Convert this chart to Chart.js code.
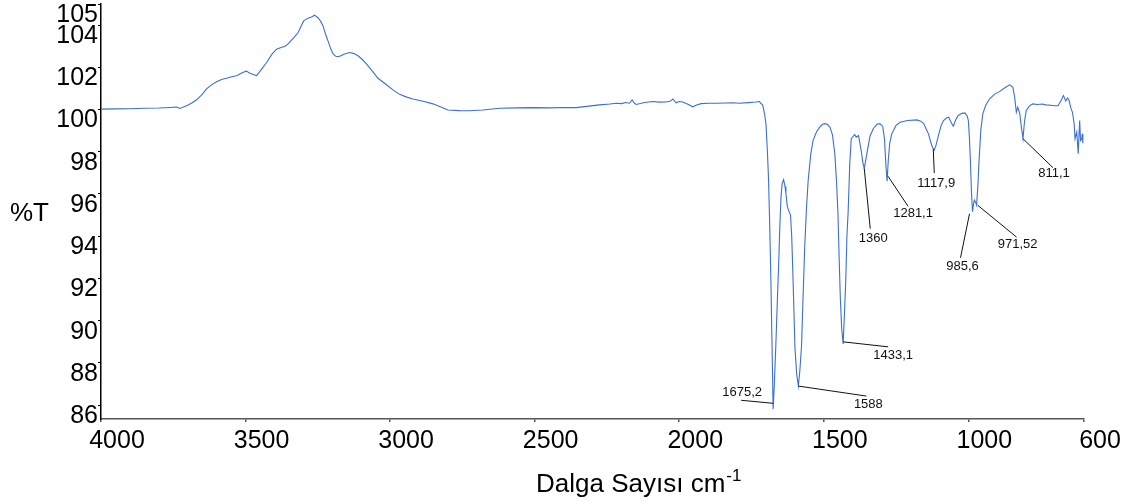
<!DOCTYPE html>
<html>
<head>
<meta charset="utf-8">
<script src="https://cdn.jsdelivr.net/npm/chart.js@4.4.1/dist/chart.umd.min.js"></script>
<style>
    body { margin: 0; background: #fff; }
    canvas { display: block; }
</style>
</head>
<body>
<canvas id="irChart" width="1128" height="504"></canvas>
<script>
// IR spectrum, wavenumber (cm-1) vs transmittance (%T)
const wavenumbers = [
    4000, 3950, 3900, 3850, 3800, 3760, 3738, 3727, 3700, 3685, 3669, 3650, 3635, 3618, 3600, 3583,
    3566, 3548, 3531, 3510, 3497, 3485, 3470, 3462, 3445, 3427, 3410, 3393, 3375, 3364, 3352, 3341,
    3330, 3318, 3308, 3299, 3284, 3272, 3261, 3250, 3241, 3232, 3224, 3215, 3206, 3197, 3188, 3180,
    3170, 3160, 3140, 3125, 3111, 3096, 3082, 3060, 3042, 3015, 2990, 2967, 2945, 2921, 2886, 2852,
    2820, 2800, 2760, 2725, 2680, 2621, 2560, 2506, 2450, 2400, 2356, 2320, 2276, 2240, 2218, 2200,
    2185, 2172, 2163, 2155, 2149, 2120, 2092, 2070, 2045, 2030, 2022, 2011, 2000, 1988, 1970, 1953,
    1940, 1924, 1900, 1873, 1840, 1815, 1792, 1760, 1735, 1723, 1711, 1705, 1700, 1695, 1691, 1687,
    1683, 1679, 1675.2, 1671, 1666, 1661, 1656, 1652, 1648, 1644, 1639, 1634, 1631, 1626, 1621, 1615,
    1611, 1608, 1604, 1600, 1594, 1588, 1583, 1577, 1572, 1566, 1560, 1554, 1545, 1537, 1525, 1514,
    1505, 1497, 1488, 1479, 1470, 1462, 1456, 1451, 1447, 1443, 1438, 1433.1, 1428, 1424, 1420, 1416,
    1410, 1405, 1393, 1388, 1380, 1375, 1370, 1365, 1360, 1355, 1349, 1340, 1329, 1316, 1306, 1296,
    1290, 1285, 1281.1, 1277, 1272, 1265, 1250, 1236, 1210, 1178, 1165, 1155, 1145, 1138, 1130, 1124,
    1117.9, 1112, 1102, 1094, 1086, 1076, 1068, 1060, 1052, 1044, 1035, 1022, 1012, 1004, 1000, 996,
    993, 989, 985.6, 982, 979, 975, 971.52, 967, 963, 957, 950, 940, 927, 910, 891, 875,
    857, 846, 840, 834, 829, 822, 817, 811.1, 806, 800, 790, 778, 760, 745, 732, 715,
    700, 690, 680, 671, 663, 657, 652, 646, 640, 634, 631, 625, 620, 615, 612, 608,
    606, 604
];
const transmittance = [
    100.02, 100.03, 100.04, 100.06, 100.07, 100.1, 100.12, 100.05, 100.2, 100.32, 100.46, 100.72, 100.98, 101.17, 101.32, 101.42,
    101.48, 101.55, 101.6, 101.75, 101.82, 101.72, 101.65, 101.6, 101.9, 102.23, 102.6, 102.86, 102.95, 102.99, 103.12, 103.29,
    103.45, 103.65, 103.95, 104.2, 104.33, 104.38, 104.47, 104.35, 104.2, 103.96, 103.6, 103.25, 102.9, 102.63, 102.52, 102.5,
    102.55, 102.62, 102.7, 102.65, 102.55, 102.37, 102.16, 101.8, 101.48, 101.2, 100.93, 100.72, 100.6, 100.5, 100.39, 100.27,
    100.1, 99.98, 99.95, 99.94, 99.98, 100.06, 100.08, 100.09, 100.08, 100.1, 100.09, 100.15, 100.22, 100.26, 100.3, 100.28,
    100.33, 100.3, 100.46, 100.3, 100.24, 100.33, 100.38, 100.35, 100.36, 100.4, 100.5, 100.32, 100.38, 100.36, 100.25, 100.13,
    100.22, 100.28, 100.3, 100.3, 100.31, 100.32, 100.3, 100.33, 100.36, 100.38, 100.2, 99.8, 99.32, 98.0, 96.65, 94.5,
    91.93, 88.8, 85.8, 87.0, 88.79, 90.8, 92.72, 94.5, 95.86, 96.5, 96.68, 96.35, 96.02, 95.4, 95.2, 95.0,
    94.0, 92.72, 90.8, 88.79, 87.5, 86.9, 87.6, 88.79, 91.0, 93.5, 95.3, 96.65, 97.9, 98.54, 98.95, 99.17,
    99.3, 99.33, 99.3, 99.17, 98.8, 97.91, 96.6, 95.08, 93.0, 91.15, 89.6, 88.9, 90.5, 91.93, 94.0, 95.08,
    97.5, 98.62, 98.82, 98.69, 98.77, 98.4, 98.0, 97.5, 97.2, 97.6, 98.07, 98.75, 99.09, 99.3, 99.33, 99.2,
    98.6, 97.3, 96.6, 97.59, 98.4, 98.85, 99.25, 99.4, 99.48, 99.51, 99.45, 99.35, 99.05, 98.85, 98.45, 98.2,
    98.08, 98.3, 98.85, 99.25, 99.48, 99.6, 99.64, 99.4, 99.21, 99.5, 99.72, 99.82, 99.84, 99.7, 99.48, 98.6,
    97.59, 96.0, 95.16, 95.55, 95.71, 95.6, 95.47, 96.4, 97.59, 99.0, 99.8, 100.2, 100.5, 100.72, 100.86, 101.02,
    101.17, 101.05, 100.6, 99.87, 100.11, 99.8, 99.2, 98.62, 99.4, 99.95, 100.15, 100.27, 100.24, 100.26, 100.22, 100.2,
    100.18, 100.18, 100.4, 100.66, 100.4, 100.55, 100.45, 100.1, 99.87, 99.32, 98.62, 98.93, 97.91, 99.48, 98.53, 98.6,
    98.85, 98.4
];

const xTicks = [4000, 3500, 3000, 2500, 2000, 1500, 1000, 600];
const yTicks = [86, 88, 90, 92, 94, 96, 98, 100, 102, 104, 105];

// picked peaks and how they are printed
const peakWavenumbers = [1675.2, 1588, 1433.1, 1360, 1281.1, 1117.9, 985.6, 971.52, 811.1];
const peakTexts = ['1675,2', '1588', '1433,1', '1360', '1281,1', '1117,9', '985,6', '971,52', '811,1'];

// leader line start/end and text centre, in px relative to the peak
const peakLayout = [
    { from: [0, -6], to: [-32, -9], text: [-31, -17] },
    { from: [0, 0], to: [68, 10], text: [70, 18] },
    { from: [0, -2], to: [45, 3], text: [50, 12] },
    { from: [0, 0], to: [6, 60], text: [9, 70] },
    { from: [1, -5], to: [21, 25], text: [26, 32] },
    { from: [-1, -1], to: [0, 23], text: [2, 33] },
    { from: [-3, 2], to: [-12, 46], text: [-10, 55] },
    { from: [1, 0], to: [40, 32], text: [41, 39] },
    { from: [0, 0], to: [30, 29], text: [31, 35] }
];

const FONT = '"Liberation Sans", Arial, sans-serif';

const points = wavenumbers.map((w, i) => ({ x: w, y: transmittance[i] }));

// axis titles: %T sits level beside the y axis, cm-1 gets a superscript
const axisTitles = {
    id: 'axisTitles',
    afterDraw(chart) {
        const ctx = chart.ctx;
        ctx.save();
        ctx.fillStyle = '#000';
        ctx.textBaseline = 'alphabetic';
        ctx.textAlign = 'left';
        ctx.font = '26px ' + FONT;
        ctx.fillText('%T', 10, 221);

        const main = 'Dalga Sayısı cm';
        ctx.fillText(main, 536, 492);
        const w = ctx.measureText(main).width;
        ctx.font = '17px ' + FONT;
        ctx.fillText('-1', 536 + w + 1, 481);
        ctx.restore();
    }
};

// leader lines and numbers for the picked peaks
const peakLabels = {
    id: 'peakLabels',
    afterDatasetsDraw(chart) {
        const ctx = chart.ctx;
        const xs = chart.scales.x;
        const ys = chart.scales.y;
        ctx.save();
        ctx.strokeStyle = '#111';
        ctx.lineWidth = 1;
        ctx.fillStyle = '#111';
        ctx.font = '13px ' + FONT;
        ctx.textAlign = 'center';
        ctx.textBaseline = 'middle';
        peakWavenumbers.forEach((w, i) => {
            const idx = wavenumbers.indexOf(w);
            const px = xs.getPixelForValue(w);
            const py = ys.getPixelForValue(transmittance[idx]);
            const lay = peakLayout[i];
            ctx.beginPath();
            ctx.moveTo(px + lay.from[0], py + lay.from[1]);
            ctx.lineTo(px + lay.to[0], py + lay.to[1]);
            ctx.stroke();
            ctx.fillText(peakTexts[i], px + lay.text[0], py + lay.text[1]);
        });
        ctx.restore();
    }
};

const ctx = document.getElementById('irChart').getContext('2d');
new Chart(ctx, {
    type: 'line',
    data: {
        datasets: [{
            data: points,
            borderColor: '#3B6FD2',
            borderWidth: 1.1,
            pointRadius: 0,
            tension: 0,
            fill: false
        }]
    },
    options: {
        responsive: false,
        animation: false,
        devicePixelRatio: 1,
        layout: { padding: { left: 0, top: 4, right: 44, bottom: 0 } },
        plugins: {
            legend: { display: false },
            tooltip: { enabled: false }
        },
        scales: {
            x: {
                type: 'linear',
                reverse: true,
                min: 600,
                max: 4000,
                afterBuildTicks: scale => { scale.ticks = xTicks.map(v => ({ value: v })); },
                afterFit: scale => {
                    scale.height = 85;
                    scale.paddingLeft = 0;
                    scale.paddingRight = 0;
                },
                grid: { drawOnChartArea: false, tickLength: 3, color: '#555', lineWidth: 1.5 },
                border: { color: '#555', width: 1.5 },
                ticks: {
                    autoSkip: false,
                    maxRotation: 0,
                    padding: 4,
                    labelOffset: 16,
                    color: '#000',
                    font: { family: FONT, size: 25 },
                    callback: v => String(v)
                }
            },
            y: {
                min: 85.34,
                max: 105,
                afterBuildTicks: scale => { scale.ticks = yTicks.map(v => ({ value: v })); },
                afterFit: scale => {
                    scale.width = 101;
                    scale.paddingTop = 0;
                    scale.paddingBottom = 0;
                },
                grid: { drawOnChartArea: false, tickLength: 3, color: '#000' },
                border: { color: '#000', width: 1.5 },
                ticks: {
                    padding: 0,
                    labelOffset: 11,
                    color: '#000',
                    font: { family: FONT, size: 25 },
                    callback: v => String(v)
                }
            }
        }
    },
    plugins: [axisTitles, peakLabels]
});
</script>
</body>
</html>
